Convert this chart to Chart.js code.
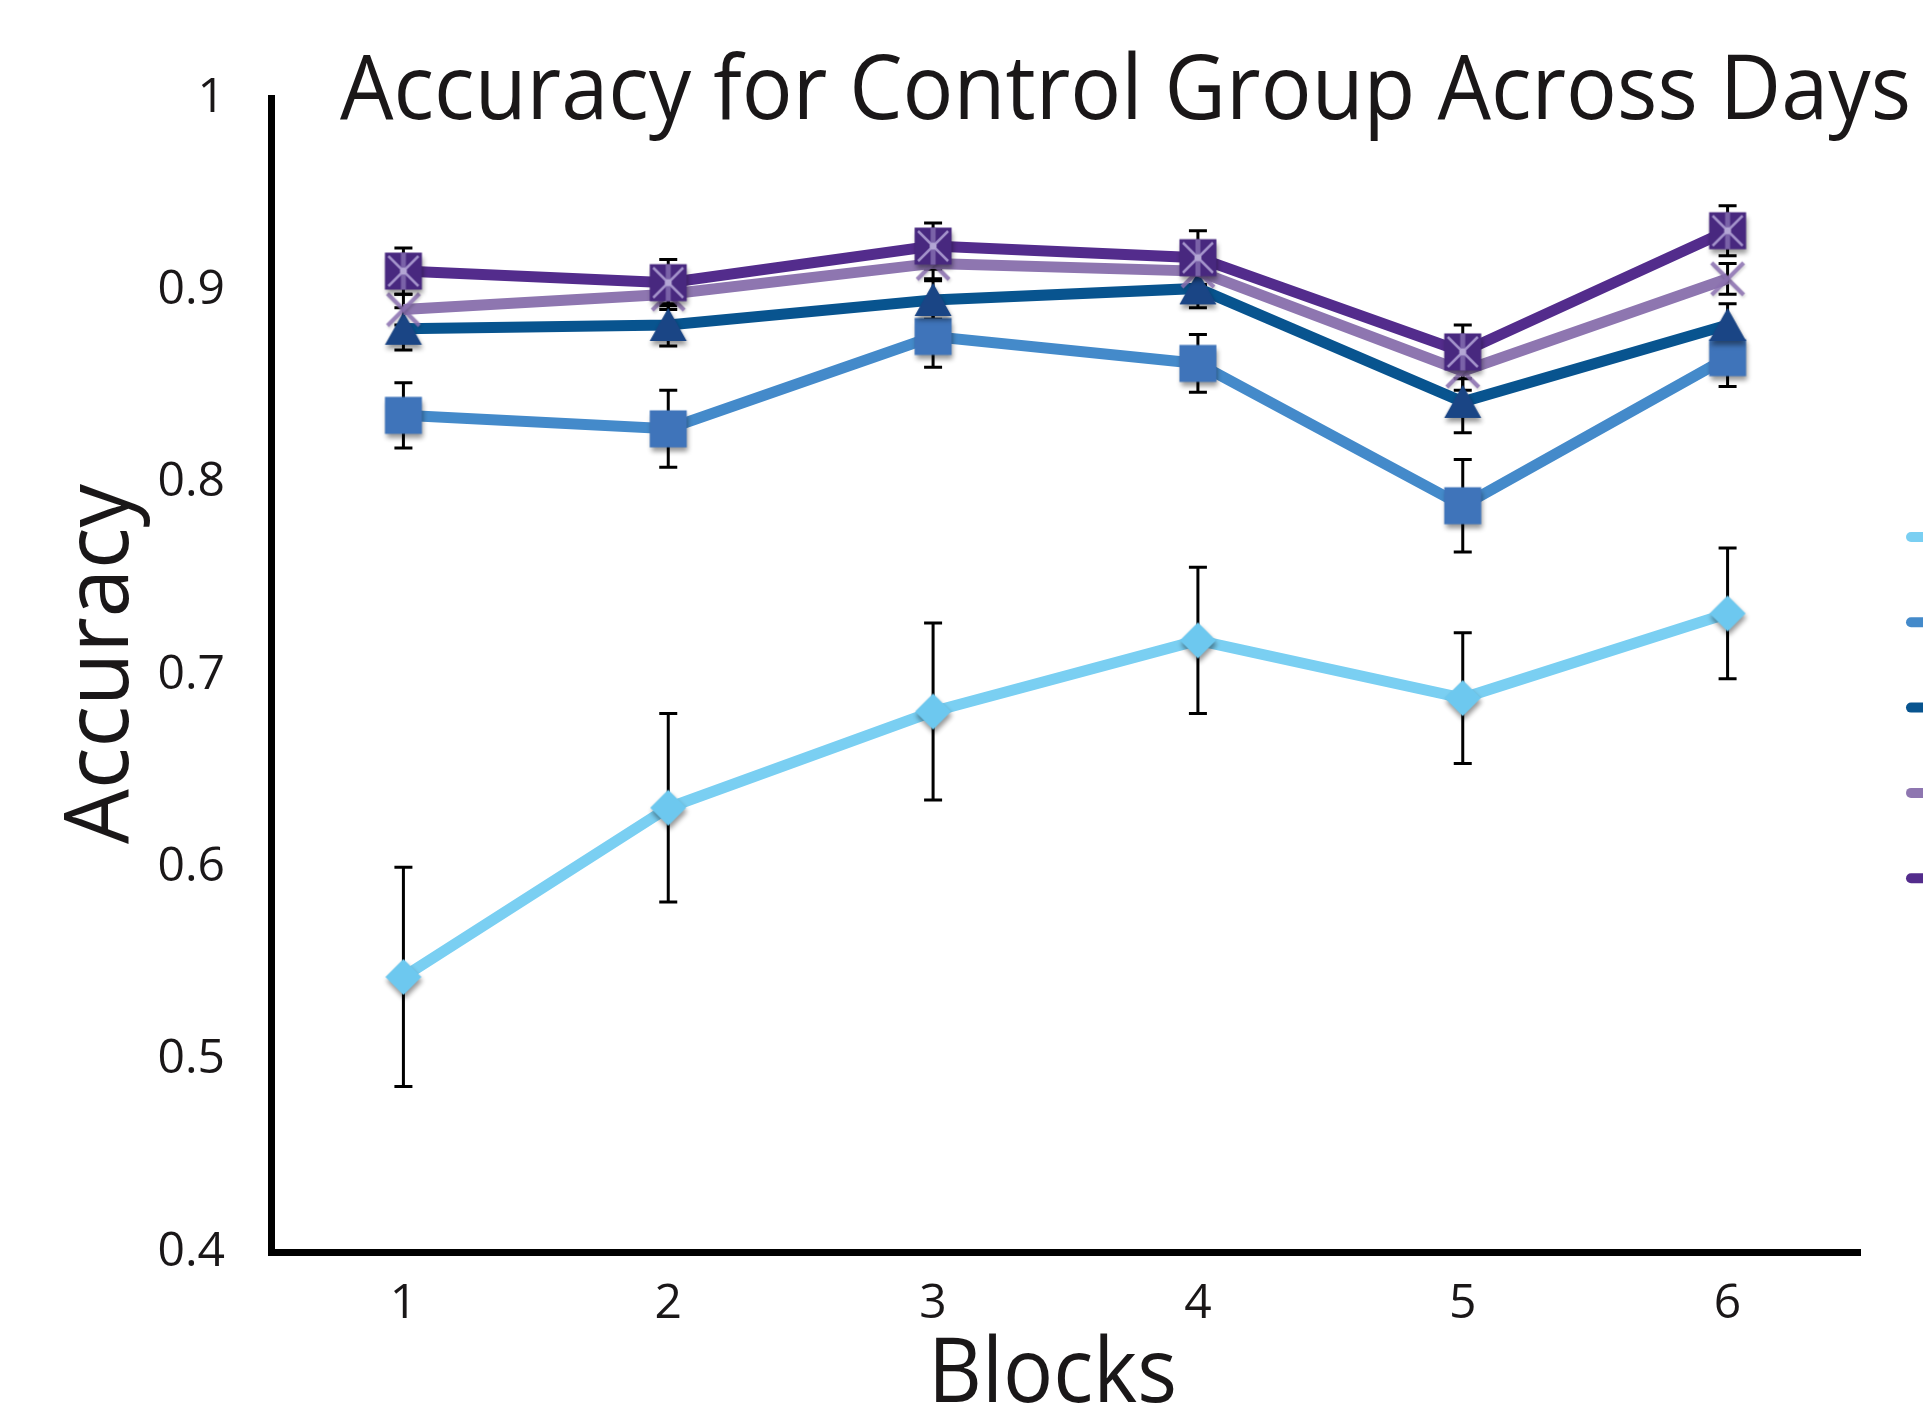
<!DOCTYPE html>
<html>
<head>
<meta charset="utf-8">
<script src="https://cdn.jsdelivr.net/npm/chart.js@4.4.1/dist/chart.umd.min.js"></script>
<style>
  html, body { margin: 0; padding: 0; background: #ffffff; overflow: hidden; }
  canvas { display: block; }
</style>
</head>
<body>
<canvas id="chart" width="1923" height="1404"></canvas>
<script>
// ---- data ----
const blocks = ['1', '2', '3', '4', '5', '6'];
const seriesNames = ['Day 1', 'Day 2', 'Day 3', 'Day 4', 'Day 5'];

const day1 = [0.543, 0.631, 0.681, 0.718, 0.688, 0.732];
const day2 = [0.835, 0.828, 0.876, 0.862, 0.788, 0.865];
const day3 = [0.880, 0.882, 0.895, 0.901, 0.842, 0.882];
const day4 = [0.890, 0.898, 0.914, 0.910, 0.858, 0.906];
const day5 = [0.910, 0.904, 0.923, 0.917, 0.868, 0.931];

const day1Err = [0.057, 0.049, 0.046, 0.038, 0.034, 0.034];
const day2Err = [0.017, 0.020, 0.016, 0.015, 0.024, 0.015];
const day3Err = [0.011, 0.011, 0.010, 0.010, 0.016, 0.011];
const day4Err = [0.008, 0.008, 0.008, 0.008, 0.010, 0.008];
const day5Err = [0.012, 0.012, 0.012, 0.014, 0.014, 0.013];

const yTickLabels = ['0.4', '0.5', '0.6', '0.7', '0.8', '0.9', '1'];
const chartTitle = 'Accuracy for Control Group Across Days';
const yTitle = 'Accuracy';
const xTitle = 'Blocks';

const FONT = '"Open Sans", "Noto Sans", sans-serif';
const INK = '#1a1718';

// ---- marker images (drawn once, with a soft drop shadow) ----
function makeMarker(kind, fill, accent) {
  const s = 64, m = s / 2;
  const c = document.createElement('canvas');
  c.width = s; c.height = s;
  const g = c.getContext('2d');
  g.save();
  g.shadowColor = 'rgba(0,0,0,0.42)';
  g.shadowBlur = 5;
  g.shadowOffsetX = 1;
  g.shadowOffsetY = 4;
  g.fillStyle = fill;
  g.strokeStyle = fill;
  if (kind === 'square' || kind === 'squareStar') {
    g.fillRect(m - 18.5, m - 18.5, 37, 37);
  } else if (kind === 'triangle') {
    g.beginPath();
    g.moveTo(m, m - 17);
    g.lineTo(m + 18.5, m + 16);
    g.lineTo(m - 18.5, m + 16);
    g.closePath();
    g.fill();
  } else if (kind === 'diamond') {
    g.beginPath();
    g.moveTo(m, m - 18);
    g.lineTo(m + 18, m);
    g.lineTo(m, m + 18);
    g.lineTo(m - 18, m);
    g.closePath();
    g.fill();
  } else if (kind === 'cross') {
    g.shadowColor = 'rgba(0,0,0,0.2)';
    g.shadowBlur = 3;
    g.shadowOffsetY = 2;
    g.globalAlpha = 0.85;
    g.lineWidth = 4;
    g.beginPath();
    g.moveTo(m - 16, m - 16); g.lineTo(m + 16, m + 16);
    g.stroke();
    g.beginPath();
    g.moveTo(m + 16, m - 16); g.lineTo(m - 16, m + 16);
    g.stroke();
  }
  g.restore();
  if (kind === 'squareStar') {
    g.save();
    g.fillStyle = '#7a62a8';
    g.fillRect(m - 2.5, m - 18.5, 5, 37);
    g.strokeStyle = accent;
    g.lineWidth = 2.5;
    g.beginPath();
    g.moveTo(m - 15, m - 15); g.lineTo(m + 15, m + 15);
    g.moveTo(m + 15, m - 15); g.lineTo(m - 15, m + 15);
    g.stroke();
    g.fillStyle = '#b3a6d4';
    g.beginPath();
    g.arc(m, m, 3.5, 0, Math.PI * 2);
    g.fill();
    g.restore();
  }
  return c;
}

const lineColors = ['#7acff2', '#448aca', '#08548f', '#8e76b0', '#532c8c'];
const markers = [
  makeMarker('diamond', '#6dc8ef'),
  makeMarker('square', '#3f74ba'),
  makeMarker('triangle', '#1a4585'),
  makeMarker('cross', '#8b70b0'),
  makeMarker('squareStar', '#48287f', '#a493cb')
];
const values = [day1, day2, day3, day4, day5];
const errors = [day1Err, day2Err, day3Err, day4Err, day5Err];

const datasets = seriesNames.map((name, i) => ({
  label: name,
  data: values[i],
  errors: errors[i],
  borderColor: lineColors[i],
  backgroundColor: lineColors[i],
  borderWidth: 11,
  tension: 0,
  fill: false,
  pointStyle: markers[i],
  pointRadius: 18,
  pointHoverRadius: 18,
  order: seriesNames.length - i
}));

// ---- plugins ----
const errorBars = {
  id: 'errorBars',
  beforeDatasetsDraw(chart) {
    const { ctx } = chart;
    const y = chart.scales.y;
    ctx.save();
    ctx.strokeStyle = '#000000';
    ctx.lineWidth = 3;
    chart.data.datasets.forEach((ds, i) => {
      const meta = chart.getDatasetMeta(i);
      ds.errors.forEach((e, j) => {
        const x = meta.data[j].x;
        const top = y.getPixelForValue(ds.data[j] + e);
        const bot = y.getPixelForValue(ds.data[j] - e);
        ctx.beginPath();
        ctx.moveTo(x, top); ctx.lineTo(x, bot);
        ctx.moveTo(x - 9, top); ctx.lineTo(x + 9, top);
        ctx.moveTo(x - 9, bot); ctx.lineTo(x + 9, bot);
        ctx.stroke();
      });
    });
    ctx.restore();
  }
};

// condensed text: fit a string to a given advance width
function fittedText(ctx, text, x, y, width, font, align) {
  ctx.font = font;
  const w = ctx.measureText(text).width;
  ctx.save();
  ctx.translate(x, y);
  ctx.scale(width / w, 1);
  ctx.textAlign = align;
  ctx.textBaseline = 'alphabetic';
  ctx.fillText(text, 0, 0);
  ctx.restore();
}

const chartTexts = {
  id: 'chartTexts',
  afterDraw(chart) {
    const { ctx, chartArea } = chart;
    ctx.save();
    ctx.fillStyle = INK;
    const big = '500 90px ' + FONT;
    fittedText(ctx, chartTitle, 340, 119, 1571, big, 'left');
    const xc = (chartArea.left + chartArea.right) / 2 - 13;
    fittedText(ctx, xTitle, xc, 1402, 249, big, 'center');
    ctx.save();
    ctx.translate(128, 664);
    ctx.rotate(-Math.PI / 2);
    fittedText(ctx, yTitle, 0, 0, 360, big, 'center');
    ctx.restore();
    ctx.restore();
  }
};

const legendSwatches = {
  id: 'legendSwatches',
  afterDraw(chart) {
    const { ctx } = chart;
    ctx.save();
    ctx.lineWidth = 10;
    ctx.lineCap = 'round';
    chart.data.datasets.forEach((ds, i) => {
      const yy = 537 + i * 85.3;
      ctx.strokeStyle = ds.borderColor;
      ctx.beginPath();
      ctx.moveTo(1911, yy);
      ctx.lineTo(1960, yy);
      ctx.stroke();
    });
    ctx.restore();
  }
};

function build() {
  new Chart(document.getElementById('chart'), {
    type: 'line',
    data: { labels: blocks, datasets },
    options: {
      responsive: false,
      animation: false,
      events: [],
      layout: { padding: { top: 98, right: 63, left: 0, bottom: 0 } },
      plugins: {
        legend: { display: false },
        tooltip: { enabled: false },
        title: { display: false }
      },
      scales: {
        x: {
          type: 'category',
          offset: true,
          grid: { display: false, drawTicks: false },
          border: { display: true, color: '#000000', width: 7 },
          ticks: {
            color: INK,
            font: { family: FONT, size: 48, weight: '500' },
            padding: 24,
            maxRotation: 0
          },
          afterFit(scale) { scale.height = 152; }
        },
        y: {
          type: 'linear',
          min: 0.4,
          max: 1,
          grid: { display: false, drawTicks: false },
          border: { display: true, color: '#000000', width: 7 },
          ticks: {
            stepSize: 0.1,
            color: INK,
            font: { family: FONT, size: 48, weight: '500' },
            padding: 46,
            callback: (v) => yTickLabels[Math.round((v - 0.4) * 10)]
          },
          afterFit(scale) { scale.width = 271; }
        }
      }
    },
    plugins: [errorBars, chartTexts, legendSwatches]
  });
}

if (document.fonts && document.fonts.load) {
  Promise.all([
    document.fonts.load('500 90px "Open Sans"'),
    document.fonts.load('500 48px "Open Sans"')
  ]).then(build, build);
} else {
  build();
}
</script>
</body>
</html>
